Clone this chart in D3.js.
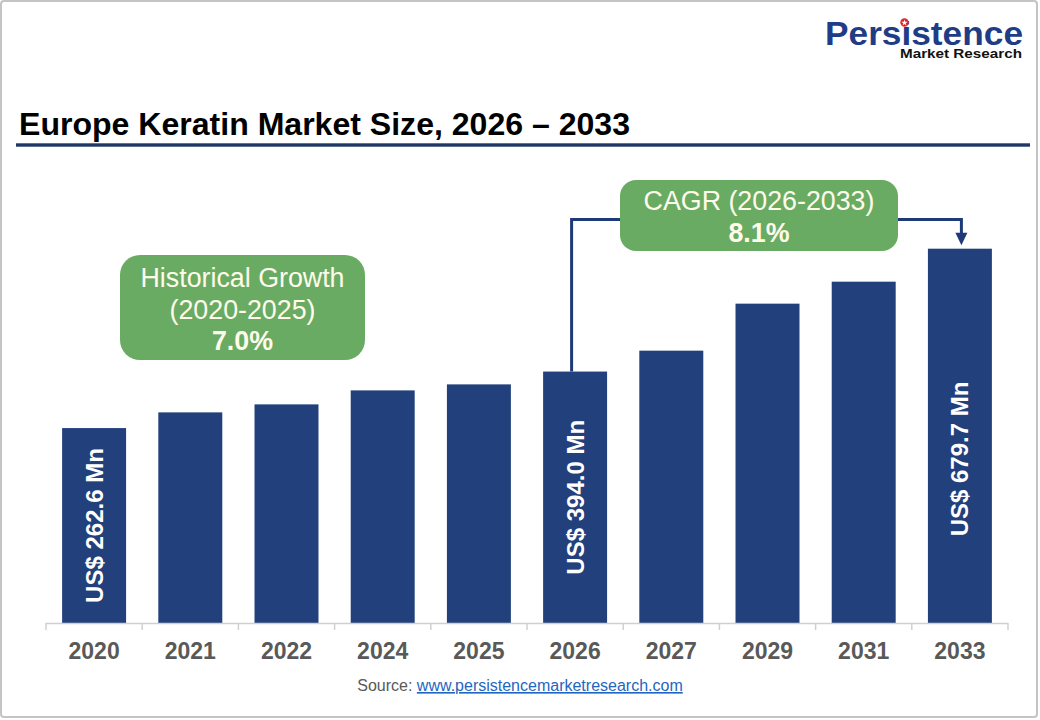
<!DOCTYPE html>
<html>
<head>
<meta charset="utf-8">
<script src="https://cdn.jsdelivr.net/npm/d3@7/dist/d3.min.js"></script>
<style>
  html, body { margin: 0; padding: 0; background: #ffffff; }
  svg { display: block; }
</style>
</head>
<body>
<svg id="chart" width="1040" height="720"></svg>
<script>
// ---- data ----
const years = ["2020", "2021", "2022", "2024", "2025", "2026", "2027", "2029", "2031", "2033"];
const marketSize = [262.6, 299.1, 317.7, 350.2, 364.2, 394.0, 442.6, 551.9, 603.0, 679.7];
const labeledYears = ["2020", "2026", "2033"];
const titleText = "Europe Keratin Market Size, 2026 \u2013 2033";
const historicalLines = ["Historical Growth", "(2020-2025)", "7.0%"];
const cagrLines = ["CAGR (2026-2033)", "8.1%"];
const cagrFrom = "2026", cagrTo = "2033";
const sourceLabel = "Source: ";
const sourceLink = "www.persistencemarketresearch.com";

const data = years.map((y, i) => ({ year: y, value: marketSize[i] }));

const svg = d3.select("#chart");

// frame
svg.append("rect").attr("x", 1).attr("y", 1).attr("width", 1036).attr("height", 716)
  .attr("rx", 3).attr("fill", "#fff").attr("stroke", "#c4c4c4").attr("stroke-width", 2);

// logo
svg.append("text").attr("x", 825).attr("y", 44.5)
  .attr("font-family", "Liberation Sans, Arial, sans-serif").attr("font-weight", "bold")
  .attr("font-size", 33).attr("fill", "#1f3c86")
  .attr("textLength", 198).attr("lengthAdjust", "spacingAndGlyphs")
  .text("Persistence");
svg.append("circle").attr("cx", 904.5).attr("cy", 22.5).attr("r", 4.2).attr("fill", "#e0262b");
svg.append("path").attr("d", d3.symbol(d3.symbolStar, 12)()).attr("transform", "translate(904.5,22.8)").attr("fill", "#fff");
svg.append("text").attr("x", 900).attr("y", 58)
  .attr("font-family", "Liberation Sans, Arial, sans-serif").attr("font-weight", "bold")
  .attr("font-size", 13).attr("fill", "#111")
  .attr("textLength", 122).attr("lengthAdjust", "spacingAndGlyphs")
  .text("Market Research");

// title
svg.append("text").attr("x", 19).attr("y", 135)
  .attr("font-family", "Liberation Sans Narrow, Arial Narrow, Liberation Sans, Arial, sans-serif")
  .attr("font-weight", "bold").attr("font-size", 32).attr("fill", "#000")
  .attr("textLength", 611).attr("lengthAdjust", "spacingAndGlyphs")
  .text(titleText);
svg.append("rect").attr("x", 16).attr("y", 143.3).attr("width", 1014).attr("height", 3.4).attr("fill", "#1f3864");

// scales
const x = d3.scaleBand().domain(years).range([46, 1008]).paddingInner(0.335).paddingOuter(0.1675);
const baseY = 623;
const y = d3.scaleLinear().domain([-190.7, 679.7]).range([baseY, 248.7]);

// bars
const barColor = "#22407c";
svg.append("g").selectAll("rect").data(data).join("rect")
  .attr("x", d => x(d.year)).attr("width", x.bandwidth())
  .attr("y", d => y(d.value)).attr("height", d => baseY - y(d.value))
  .attr("fill", barColor);

// axis
const axisG = svg.append("g").attr("transform", `translate(0,${baseY})`);
axisG.append("line").attr("x1", x.range()[0]).attr("x2", x.range()[1])
  .attr("y1", 0.5).attr("y2", 0.5).attr("stroke", "#d0d0d0").attr("stroke-width", 1.5);
const gap = x.step() * x.paddingInner() / 2;
const boundaries = years.map(yr => x(yr) - gap).concat([x.range()[1]]);
axisG.selectAll("line.tick").data(boundaries).join("line").attr("class", "tick")
  .attr("x1", d => d).attr("x2", d => d).attr("y1", 0).attr("y2", 7)
  .attr("stroke", "#d0d0d0").attr("stroke-width", 1.5);
const axis = d3.axisBottom(x).tickSize(0).tickPadding(0);
const ag = svg.append("g").attr("transform", `translate(0,${baseY})`).call(axis);
ag.select(".domain").remove();
ag.selectAll("text").attr("y", 36).attr("dy", 0)
  .attr("font-family", "Liberation Sans, Arial, sans-serif").attr("font-weight", "bold")
  .attr("font-size", 23).attr("fill", "#595959");

// value labels inside bars
svg.append("g").selectAll("text").data(data.filter(d => labeledYears.includes(d.year))).join("text")
  .attr("transform", d => {
    const cx = x(d.year) + x.bandwidth() / 2 + 8.5;
    const cy = (Math.max(y(d.value), 295) + baseY) / 2;
    return `translate(${cx},${cy}) rotate(-90)`;
  })
  .attr("text-anchor", "middle")
  .attr("font-family", "Liberation Sans, Arial, sans-serif").attr("font-weight", "bold")
  .attr("font-size", 24).attr("fill", "#fff")
  .text(d => `US$ ${d.value.toFixed(1)} Mn`);

// CAGR connector
const lineColor = "#1f3a78";
const fromD = data.find(d => d.year === cagrFrom), toD = data.find(d => d.year === cagrTo);
const xFrom = x(cagrFrom) + x.bandwidth() / 2 - 3.5;
const xTo = x(cagrTo) + x.bandwidth() / 2 + 1.5;
const yConn = 219.5;
svg.append("path")
  .attr("d", `M${xFrom},${y(fromD.value)} V${yConn} H${xTo} V${y(toD.value) - 14}`)
  .attr("fill", "none").attr("stroke", lineColor).attr("stroke-width", 3);
svg.append("path")
  .attr("d", `M${xTo - 6},${y(toD.value) - 16} L${xTo + 6},${y(toD.value) - 16} L${xTo},${y(toD.value) - 3.5} Z`)
  .attr("fill", lineColor);

// annotation boxes
const green = "#6aab64";
const txtCol = "#fffbea";
svg.append("rect").attr("x", 120).attr("y", 255).attr("width", 245).attr("height", 105)
  .attr("rx", 20).attr("fill", green);
const histBase = [287, 319, 350];
historicalLines.forEach((t, i) => {
  svg.append("text").attr("x", 242.5).attr("y", histBase[i]).attr("text-anchor", "middle")
    .attr("font-family", "Liberation Sans, Arial, sans-serif")
    .attr("font-weight", i === 2 ? "bold" : "normal")
    .attr("font-size", 26.8).attr("fill", txtCol).text(t);
});

svg.append("rect").attr("x", 620).attr("y", 180).attr("width", 278).attr("height", 71)
  .attr("rx", 16).attr("fill", green);
const cagrBase = [210, 242];
cagrLines.forEach((t, i) => {
  svg.append("text").attr("x", 759).attr("y", cagrBase[i]).attr("text-anchor", "middle")
    .attr("font-family", "Liberation Sans, Arial, sans-serif")
    .attr("font-weight", i === 1 ? "bold" : "normal")
    .attr("font-size", 26.8).attr("fill", txtCol).text(t);
});

// source
const src = svg.append("text").attr("x", 520).attr("y", 691).attr("text-anchor", "middle")
  .attr("font-family", "Liberation Sans, Arial, sans-serif").attr("font-size", 16);
src.append("tspan").attr("fill", "#595959").text(sourceLabel);
src.append("tspan").attr("fill", "#1f66c1").attr("text-decoration", "underline").text(sourceLink);
</script>
</body>
</html>
